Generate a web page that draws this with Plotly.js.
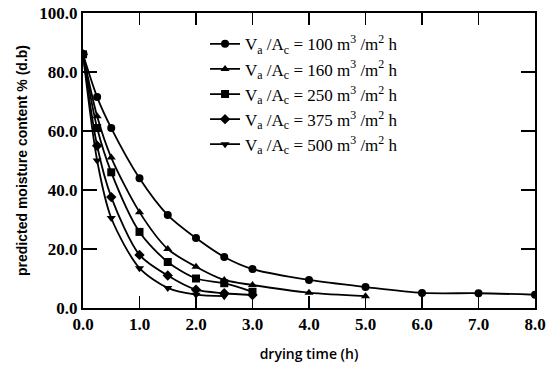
<!DOCTYPE html>
<html><head><meta charset="utf-8">
<script src="https://cdn.plot.ly/plotly-3.0.1.min.js"></script>
<style>body{margin:0;background:#fff}#c{width:551px;height:374px}</style>
</head><body><div id="c"></div>
<script>
const seriesNames = [
  "V<sub>a</sub> /A<sub>c</sub> = 100 m<sup>3</sup> /m<sup>2</sup> h",
  "V<sub>a</sub> /A<sub>c</sub> = 160 m<sup>3</sup> /m<sup>2</sup> h",
  "V<sub>a</sub> /A<sub>c</sub> = 250 m<sup>3</sup> /m<sup>2</sup> h",
  "V<sub>a</sub> /A<sub>c</sub> = 375 m<sup>3</sup> /m<sup>2</sup> h",
  "V<sub>a</sub> /A<sub>c</sub> = 500 m<sup>3</sup> /m<sup>2</sup> h"
];
const x100 = [0, 0.25, 0.5, 1.0, 1.5, 2.0, 2.5, 3.0, 4.0, 5.0, 6.0, 7.0, 8.0];
const y100 = [86, 71.5, 61, 44, 31.5, 23.7, 17.3, 13.2, 9.5, 7.1, 5.1, 5.0, 4.5];
const x160 = [0, 0.25, 0.5, 1.0, 1.5, 2.0, 2.5, 3.0, 4.0, 5.0];
const y160 = [86, 65, 51, 32.5, 20, 14, 9.5, 7.8, 5.2, 4.0];
const x250 = [0, 0.25, 0.5, 1.0, 1.5, 2.0, 2.5, 3.0];
const y250 = [86, 61, 46, 25.8, 15.6, 10, 8.4, 5.5];
const x375 = [0, 0.25, 0.5, 1.0, 1.5, 2.0, 2.5, 3.0];
const y375 = [86, 55, 37.6, 18, 11, 6.2, 5.0, 4.4];
const x500 = [0, 0.25, 0.5, 1.0, 1.5, 2.0, 2.5];
const y500 = [86, 50, 30.5, 13.5, 6.8, 4.5, 4.0];
const symbols = ["circle", "triangle-up", "square", "diamond", "triangle-down"];
const xTicks = [0,1,2,3,4,5,6,7,8];
const xTickText = ["0.0","1.0","2.0","3.0","4.0","5.0","6.0","7.0","8.0"];
const yTicks = [0,20,40,60,80,100];
const yTickText = ["0.0","20.0","40.0","60.0","80.0","100.0"];

const xs = [x100, x160, x250, x375, x500];
const ys = [y100, y160, y250, y375, y500];
const traces = xs.map((x, i) => ({
  x: x, y: ys[i], name: seriesNames[i], type: "scatter", mode: "lines+markers",
  line: {color: "#000", width: 1.8, shape: "spline", smoothing: 0.8},
  marker: {color: "#000", size: 8, symbol: symbols[i]}
}));

const layout = {
  width: 551, height: 374,
  margin: {l: 83, r: 16, t: 13, b: 66},
  paper_bgcolor: "#fff", plot_bgcolor: "#fff",
  showlegend: true,
  legend: {x: 0.27, y: 0.955, xanchor: "left", yanchor: "top",
    font: {family: "Liberation Serif, serif", size: 17, color: "#000"},
    bgcolor: "rgba(0,0,0,0)", tracegroupgap: 0},
  xaxis: {range: [0, 8], tickvals: xTicks, ticktext: xTickText,
    ticks: "inside", ticklen: 12, tickwidth: 1.5, tickcolor: "#000",
    showline: true, linecolor: "#000", linewidth: 2, mirror: "ticks",
    showgrid: false, zeroline: false,
    tickfont: {family: "Liberation Serif, serif", size: 17, color: "#000", weight: "bold"},
    title: {text: "drying time (h)", standoff: 16,
      font: {family: "Open Sans, sans-serif", size: 14, color: "#000", weight: 600}}},
  yaxis: {range: [0, 100], tickvals: yTicks, ticktext: yTickText,
    ticks: "inside", ticklen: 14, tickwidth: 1.5, tickcolor: "#000",
    showline: true, linecolor: "#000", linewidth: 2, mirror: "ticks",
    showgrid: false, zeroline: false,
    tickfont: {family: "Liberation Serif, serif", size: 17, color: "#000", weight: "bold"},
    title: {text: "predicted moisture content % (d.b)", standoff: 8,
      font: {family: "Liberation Sans, sans-serif", size: 14, color: "#000", weight: "bold"}}}
};
Plotly.newPlot("c", traces, layout, {displayModeBar: false, staticPlot: true});
</script>
</body></html>
